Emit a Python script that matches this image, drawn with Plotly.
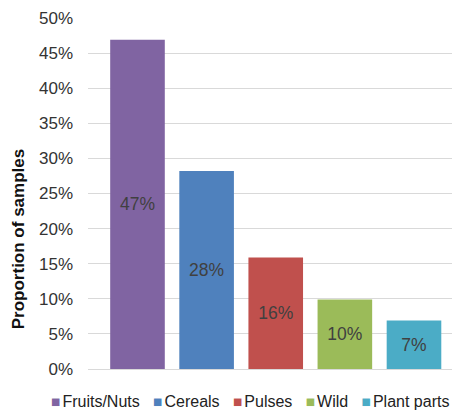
import plotly.graph_objects as go

categories = ["Fruits/Nuts", "Cereals", "Pulses", "Wild", "Plant parts"]
values = [0.469, 0.282, 0.159, 0.099, 0.069]
labels = ["47%", "28%", "16%", "10%", "7%"]
colors = ["#8064A2", "#4F81BD", "#C0504D", "#9BBB59", "#4BACC6"]
y_ticks = [0, 0.05, 0.10, 0.15, 0.20, 0.25, 0.30, 0.35, 0.40, 0.45, 0.50]

FONT = "Liberation Sans, Arial, sans-serif"
THIN = "\u2009"
NBSP = "\u00a0"

fig = go.Figure()
fig.add_trace(go.Bar(
    x=list(range(len(categories))),
    y=values,
    text=labels,
    textposition="inside",
    insidetextanchor="middle",
    textangle=0,
    textfont=dict(family=FONT, size=17.5, color="#404040"),
    marker=dict(color=colors, line=dict(width=0)),
    width=0.79,
    showlegend=False,
    hoverinfo="skip",
))

# legend built as a single text line with coloured squares
parts = []
for c, col in zip(categories, colors):
    parts.append(
        f"<span style='color:{col};font-size:15.5px'>■</span>"
        f"<span style='font-size:10px'>{THIN}</span>{c}"
    )
legend_text = (NBSP * 3).join(parts)

fig.add_annotation(
    text=legend_text, xref="paper", yref="paper",
    x=0.446, y=-0.092, xanchor="center", yanchor="middle",
    showarrow=False, font=dict(family=FONT, size=16, color="#222222"),
)

# y axis title (placed below plot centre as in the original)
fig.add_annotation(
    text="<b>Proportion of samples</b>", xref="paper", yref="paper",
    x=-0.192, y=0.37, xanchor="center", yanchor="middle", textangle=-90,
    showarrow=False, font=dict(family=FONT, size=17, color="#111111"),
)

fig.update_layout(
    width=455, height=411,
    margin=dict(l=88, r=3, t=18, b=42),
    paper_bgcolor="white", plot_bgcolor="white",
    bargap=0.2,
    xaxis=dict(range=[-0.716, 4.55], showticklabels=False, showgrid=False,
               zeroline=False, showline=False, ticks=""),
    yaxis=dict(range=[0, 0.5], tickvals=y_ticks, tickformat=".0%",
               showgrid=True, gridcolor="#D9D9D9", gridwidth=1,
               zeroline=True, zerolinecolor="#D9D9D9", zerolinewidth=1,
               ticks="", ticklabelstandoff=14,
               tickfont=dict(family=FONT, size=17, color="#333333")),
    font=dict(family=FONT),
)

fig.write_html("out.html")
